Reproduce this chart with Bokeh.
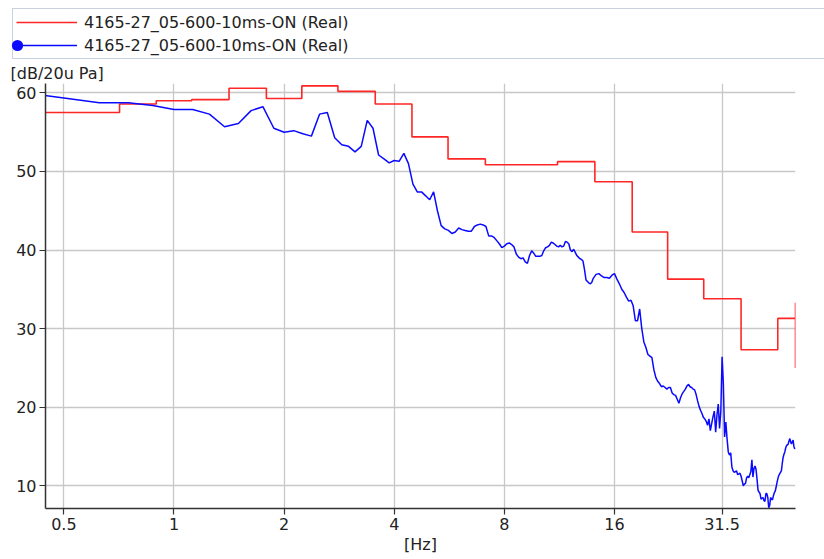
import math
from bokeh.plotting import figure
from bokeh.models import (ColumnDataSource, FixedTicker, Legend, LegendItem, Label, Range1d)
from bokeh.embed import file_html
from bokeh.resources import INLINE

# ---------------- data ----------------
series_name = "4165-27_05-600-10ms-ON (Real)"

# red: third-octave band levels (step curve)
band_centers = [0.5, 0.63, 0.8, 1.0, 1.25, 1.6, 2.0, 2.5, 3.15, 4.0, 5.0, 6.3,
                8.0, 10.0, 12.5, 16.0, 20.0, 25.0, 31.5, 40.0, 50.0]
band_levels = [57.5, 57.5, 58.6, 59.0, 59.15, 60.6, 59.3, 60.9, 60.2, 58.6, 54.4, 51.6,
               50.85, 50.85, 51.25, 48.7, 42.3, 36.3, 33.8, 27.3, 31.3]
tail_freq = 50.0
tail_levels = [33.3, 25.0]

# blue: narrow-band spectrum
blue_freq = [
    0.375, 0.5, 0.625, 0.75, 0.875, 1.0, 1.125, 1.25, 1.375, 1.5, 1.625, 1.75, 1.875,
    2.0, 2.125, 2.25, 2.375, 2.5, 2.625, 2.75, 2.875, 3.0, 3.125, 3.25, 3.375, 3.5,
    3.625, 3.75, 3.875, 4.0, 4.125, 4.25, 4.375, 4.5, 4.625, 4.75, 4.875, 5.0, 5.125,
    5.25, 5.375, 5.5, 5.625, 5.75, 5.875, 6.0, 6.125, 6.25, 6.375, 6.5, 6.625, 6.75,
    6.875, 7.0, 7.125, 7.25, 7.375, 7.5, 7.625, 7.75, 7.875, 8.0, 8.125, 8.25, 8.375,
    8.5, 8.625, 8.75, 8.875, 9.0, 9.125, 9.25, 9.375, 9.5, 9.625, 9.75, 9.875, 10.0,
    10.125, 10.25, 10.375, 10.5, 10.625, 10.75, 10.875, 11.0, 11.125, 11.25, 11.375,
    11.5, 11.625, 11.75, 11.875, 12.0, 12.125, 12.25, 12.375, 12.5, 12.625, 12.75,
    12.875, 13.0, 13.125, 13.25, 13.375, 13.5, 13.625, 13.75, 13.875, 14.0,
    14.25, 14.5, 14.75, 15.0, 15.25, 15.5, 15.75, 16.0, 16.25, 16.5, 16.75, 17.0,
    17.25, 17.5, 17.75, 18.0, 18.25, 18.5, 18.75, 19.0, 19.25, 19.5, 19.75, 20.0,
    20.25, 20.5, 20.75, 21.0, 21.25, 21.5, 21.75, 22.0, 22.25, 22.5, 22.75, 23.0,
    23.25, 23.5, 23.75, 24.0, 24.25, 24.5, 24.75, 25.0, 25.25, 25.5, 25.75, 26.0,
    26.25, 26.5, 26.75, 27.0, 27.25, 27.5, 27.75, 28.0, 28.25, 28.5, 28.75, 29.0,
    29.25, 29.5, 29.75, 30.0, 30.25, 30.5, 30.75, 31.0, 31.25, 31.5, 31.75, 32.0,
    32.25, 32.5, 32.75, 33.0, 33.25, 33.5, 33.75, 34.0, 34.25, 34.5, 34.75, 35.0,
    35.25, 35.5, 35.75, 36.0, 36.25, 36.5, 36.75, 37.0, 37.25, 37.5, 37.75, 38.0,
    38.25, 38.5, 38.75, 39.0, 39.25, 39.5, 39.75, 40.0, 40.25, 40.5, 40.75, 41.0,
    41.25, 41.5, 41.75, 42.0, 42.25, 42.5, 42.75, 43.0, 43.25, 43.5, 43.75, 44.0,
    44.25, 44.5, 44.75, 45.0, 45.25, 45.5, 45.75, 46.0, 46.25, 46.5, 46.75, 47.0,
    47.25, 47.5, 47.75, 48.0, 48.25, 48.5, 48.75, 49.0, 49.25, 49.5, 49.75, 50.0,
]
blue_db = [
    60.1, 59.35, 58.75, 58.75, 58.4, 57.9, 57.9, 57.3, 55.7, 56.1, 57.75, 58.25, 55.5,
    55.0, 55.2, 54.8, 54.5, 57.3, 57.5, 54.3, 53.4, 53.2, 52.5, 53.2, 56.5, 55.5,
    52.1, 51.6, 51.1, 51.4, 51.3, 52.3, 51.0, 48.4, 47.4, 47.4, 46.9, 46.4, 47.4,
    45.0, 43.1, 42.7, 42.5, 42.1, 42.3, 42.8, 42.6, 42.5, 42.4, 42.4, 43.0, 43.2,
    43.3, 43.2, 43.0, 41.8, 41.8, 41.6, 41.2, 40.8, 40.3, 40.5, 40.8, 40.9, 40.7,
    40.4, 39.5, 39.1, 38.9, 39.0, 38.5, 38.3, 39.3, 39.9, 39.6, 39.2, 39.2, 39.2,
    39.3, 39.9, 40.3, 40.4, 40.6, 41.0, 40.9, 40.7, 40.5, 40.4, 40.6,
    40.4, 40.5, 41.1, 41.0, 40.8, 40.0, 39.8, 40.1, 39.7, 39.3, 39.1,
    38.9, 38.8, 38.6, 37.5, 36.2, 36.0, 35.8, 35.7, 35.9, 36.4,
    36.9, 37.0, 36.7, 36.5, 36.5, 36.4, 36.8, 37.0, 36.3, 35.7, 35.0, 34.6,
    34.0, 33.5, 33.6, 32.9, 31.0, 31.0, 32.5, 30.0, 28.3, 27.6, 26.7, 26.5,
    26.3, 24.8, 23.8, 23.3, 23.0, 22.6, 22.7, 22.5, 22.3, 22.5, 22.5, 21.8,
    21.6, 21.5, 21.0, 20.5, 21.2, 21.7, 22.0, 22.3, 22.7, 22.9, 22.6, 22.5,
    22.3, 22.2, 21.6, 20.8, 20.1, 19.6, 19.2, 18.7, 18.5, 18.2, 17.7, 18.5,
    17.0, 17.9, 18.8, 19.5, 16.8, 19.0, 20.4, 17.3, 19.5, 26.4, 23.0, 16.2,
    18.1, 16.0, 14.3, 13.9, 14.2, 12.4, 11.9, 11.7, 11.8, 11.9, 11.4, 11.5,
    11.6, 11.2, 10.6, 10.0, 10.2, 10.3, 11.0, 11.2, 11.0, 11.4, 11.8, 13.3,
    11.1, 12.2, 12.5, 12.1, 10.8, 9.4, 9.2, 9.0, 8.3, 8.4, 8.5, 8.1,
    8.0, 9.0, 9.0, 8.5, 7.2, 7.5, 8.5, 8.3, 8.2, 8.7, 9.1, 9.3,
    9.8, 10.4, 10.9, 11.3, 11.5, 11.7, 11.9, 12.8, 13.6, 14.0, 14.3, 14.8,
    15.1, 15.2, 15.3, 15.7, 16.0, 15.6, 15.3, 15.6, 15.8, 15.0, 14.7, 14.8,
]

x_ticks = [0.5, 1, 2, 4, 8, 16, 31.5]
x_tick_labels = ["0.5", "1", "2", "4", "8", "16", "31.5"]
y_ticks = [10, 20, 30, 40, 50, 60]
y_min, y_max = 7.1, 61.2
y_unit = "[dB/20u Pa]"
x_unit = "[Hz]"

RED = "#ff2626"
BLUE = "#0a0aff"
FONT = "DejaVu Sans"
TXT = "#222222"

# ---------------- build step curve ----------------
edges = [band_centers[0] * 2 ** (-1 / 6)]
edges += [math.sqrt(a * b) for a, b in zip(band_centers[:-1], band_centers[1:])]
edges += [tail_freq]
red_x, red_y = [], []
for i, lev in enumerate(band_levels):
    red_x += [edges[i], edges[i + 1]]
    red_y += [lev, lev]
red_x += [tail_freq] * len(tail_levels)
red_y += tail_levels

red_src = ColumnDataSource(dict(f=red_x, db=red_y))
blue_src = ColumnDataSource(dict(f=blue_freq, db=blue_db))

# ---------------- header (legend + unit) ----------------
W = 824
HEAD_H = 83
head = figure(width=W, height=HEAD_H, title=None,
              x_range=Range1d(0, W), y_range=Range1d(HEAD_H, 0),
              x_axis_location=None, y_axis_location=None,
              output_backend="svg", toolbar_location=None,
              min_border=0, min_border_left=0, min_border_right=0,
              min_border_top=0, min_border_bottom=0)
head.outline_line_color = None
head.grid.visible = False

# legend-only renderers (hidden on the canvas, shown as legend glyphs)
lr = head.line("f", "db", source=red_src, line_color=RED, line_width=1.6, visible=False)
lb = head.line("f", "db", source=blue_src, line_color=BLUE, line_width=1.5, visible=False)
ld = head.scatter("f", "db", source=blue_src, fill_color=BLUE, line_color=None, visible=False)

legend = Legend(items=[LegendItem(label=series_name, renderers=[lr]),
                       LegendItem(label=series_name, renderers=[lb])],
                location=(12, HEAD_H - 59), orientation="vertical",
                glyph_width=61, glyph_height=20, label_standoff=7, label_width=760,
                label_height=20, spacing=3, padding=3, margin=0,
                label_text_font=FONT, label_text_font_size="16px", label_text_color=TXT,
                border_line_color="#8fa3bf", border_line_width=1.3,
                background_fill_color="white", background_fill_alpha=1.0)
head.add_layout(legend)
dot_legend = Legend(items=[LegendItem(label=" ", renderers=[ld])],
                    location=(3, HEAD_H - 59), glyph_width=28, glyph_height=28,
                    label_standoff=0, label_width=0, label_height=0, padding=0, margin=0,
                    spacing=0, label_text_font_size="1px",
                    border_line_color=None, background_fill_alpha=0)
head.add_layout(dot_legend)
head.add_layout(Label(x=10, y=63, text=y_unit, text_font=FONT, text_font_size="16px",
                      text_color=TXT, text_align="left", text_baseline="top"))

# ---------------- main plot ----------------
p = figure(width=W, height=559 - HEAD_H, title=None, x_axis_type="log",
           x_range=Range1d(edges[0], tail_freq), y_range=Range1d(y_min, y_max),
           output_backend="svg", toolbar_location=None,
           min_border_left=45, min_border_right=29, min_border_top=0, min_border_bottom=51)
p.outline_line_color = None

p.line("f", "db", source=red_src, line_color=RED, line_width=1.6)
p.line("f", "db", source=blue_src, line_color=BLUE, line_width=1.5)

p.xaxis.ticker = FixedTicker(ticks=x_ticks)
p.xaxis.major_label_overrides = {t: s for t, s in zip(x_ticks, x_tick_labels)}
p.yaxis.ticker = FixedTicker(ticks=y_ticks)

for ax in (p.xaxis[0], p.yaxis[0]):
    ax.axis_line_color = "#333333"
    ax.axis_line_width = 1.5
    ax.major_tick_line_color = "#333333"
    ax.major_tick_line_width = 1.2
    ax.major_tick_out = 6
    ax.major_tick_in = 0
    ax.minor_tick_line_color = None
    ax.major_label_text_font = FONT
    ax.major_label_text_font_size = "16px"
    ax.major_label_text_color = TXT
p.xaxis.major_label_standoff = 3
p.yaxis.major_label_standoff = 3
p.xaxis.axis_label = x_unit
p.xaxis.axis_label_text_font = FONT
p.xaxis.axis_label_text_font_size = "16px"
p.xaxis.axis_label_text_font_style = "normal"
p.xaxis.axis_label_text_color = TXT
p.xaxis.axis_label_standoff = 2

p.grid.grid_line_color = "#c8c8c8"
p.grid.grid_line_width = 1.3
p.xgrid.ticker = FixedTicker(ticks=x_ticks)
p.ygrid.ticker = FixedTicker(ticks=y_ticks)

# two independent roots, stacked (no frame alignment between them)
open("out.html", "w").write(file_html([head, p], INLINE))
